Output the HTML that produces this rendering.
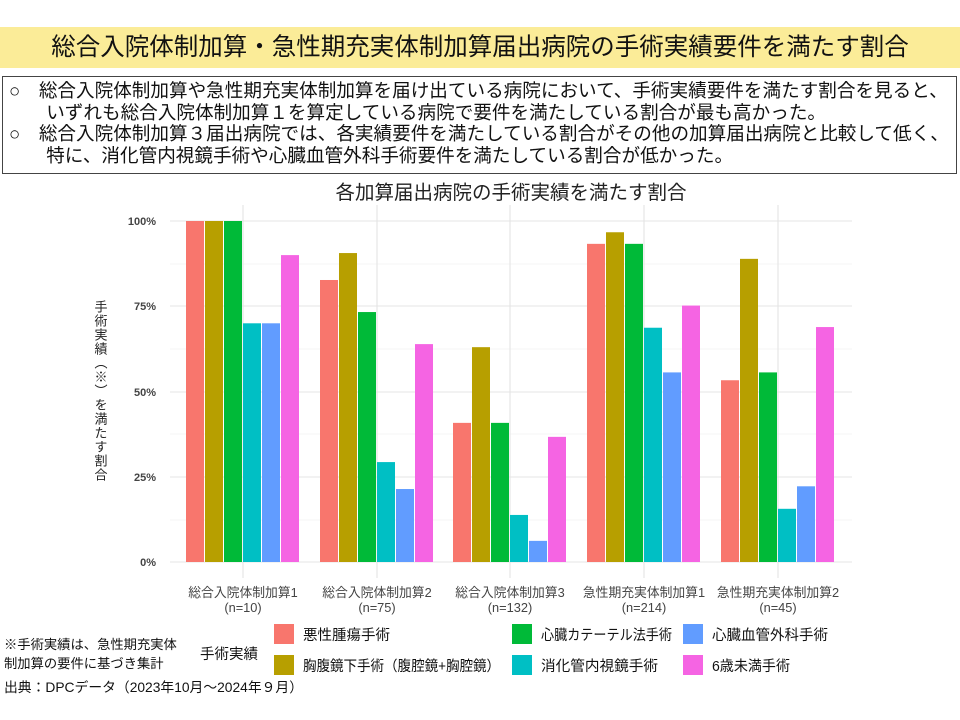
<!DOCTYPE html>
<html><head><meta charset="utf-8"><style>
body{margin:0;width:960px;height:720px;background:#fff;font-family:"Liberation Sans","Noto Sans CJK JP",sans-serif;position:relative;overflow:hidden}
.ban{position:absolute;left:0;top:27px;width:960px;height:41px;background:#FBEC98;font-size:24.5px;text-align:center;line-height:41px;color:#111;white-space:nowrap}
.box{position:absolute;left:2px;top:76px;width:955px;height:98px;border:1px solid #444;box-sizing:border-box;font-size:18.6px;line-height:21.5px;padding:3px 0 0 6px;color:#111;white-space:nowrap;overflow:hidden}
</style></head><body>
<div class="ban">総合入院体制加算・急性期充実体制加算届出病院の手術実績要件を満たす割合</div>
<div class="box">○　総合入院体制加算や急性期充実体制加算を届け出ている病院において、手術実績要件を満たす割合を見ると、<br>　　いずれも総合入院体制加算１を算定している病院で要件を満たしている割合が最も高かった。<br>○　総合入院体制加算３届出病院では、各実績要件を満たしている割合がその他の加算届出病院と比較して低く、<br>　　特に、消化管内視鏡手術や心臓血管外科手術要件を満たしている割合が低かった。</div>
<svg width="960" height="720" style="position:absolute;left:0;top:0" font-family="Liberation Sans, Noto Sans CJK JP, sans-serif">
<text x="511" y="199" font-size="19.5" text-anchor="middle" fill="#222">各加算届出病院の手術実績を満たす割合</text>
<g stroke="#ebebeb" stroke-width="0.6">
<line x1="170" x2="852" y1="264" y2="264"/><line x1="170" x2="852" y1="349" y2="349"/><line x1="170" x2="852" y1="434" y2="434"/><line x1="170" x2="852" y1="520" y2="520"/>
</g>
<g stroke="#e4e4e4" stroke-width="1.1">
<line x1="170" x2="852" y1="221" y2="221"/><line x1="170" x2="852" y1="306" y2="306"/><line x1="170" x2="852" y1="392" y2="392"/><line x1="170" x2="852" y1="477" y2="477"/><line x1="170" x2="852" y1="562" y2="562"/>
<line x1="243" x2="243" y1="205" y2="578"/><line x1="377" x2="377" y1="205" y2="578"/><line x1="510" x2="510" y1="205" y2="578"/><line x1="644" x2="644" y1="205" y2="578"/><line x1="778" x2="778" y1="205" y2="578"/>
</g>
<g font-size="11" fill="#444" text-anchor="end" font-weight="bold">
<text x="156" y="225">100%</text><text x="156" y="310">75%</text><text x="156" y="396">50%</text><text x="156" y="481">25%</text><text x="156" y="566">0%</text>
</g>
<text font-size="13" fill="#222" writing-mode="vertical-rl" x="100" y="300" letter-spacing="1">手術実績（※）を満たす割合</text>
<g id="bars"></g>
<g font-size="12.8" fill="#444" text-anchor="middle">
<text x="243" y="597">総合入院体制加算1</text><text x="243" y="612">(n=10)</text>
<text x="377" y="597">総合入院体制加算2</text><text x="377" y="612">(n=75)</text>
<text x="510" y="597">総合入院体制加算3</text><text x="510" y="612">(n=132)</text>
<text x="644" y="597">急性期充実体制加算1</text><text x="644" y="612">(n=214)</text>
<text x="778" y="597">急性期充実体制加算2</text><text x="778" y="612">(n=45)</text>
</g>
<g font-size="13.3" fill="#111">
<text x="4" y="649">※手術実績は、急性期充実体</text><text x="4" y="668">制加算の要件に基づき集計</text>
<text x="4" y="692" font-size="13.8">出典：DPCデータ（2023年10月～2024年９月）</text>
<text x="200" y="659" font-size="14.5">手術実績</text>
</g>
<g font-size="14.5" fill="#111">
<rect x="274" y="624" width="20" height="20" fill="#F8766D"/><text x="303" y="640" textLength="87" lengthAdjust="spacingAndGlyphs">悪性腫瘍手術</text>
<rect x="274" y="655" width="20" height="20" fill="#B79F00"/><text x="303" y="671" textLength="197" lengthAdjust="spacingAndGlyphs">胸腹鏡下手術（腹腔鏡+胸腔鏡）</text>
<rect x="512" y="624" width="20" height="20" fill="#00BA38"/><text x="541" y="640" textLength="131" lengthAdjust="spacingAndGlyphs">心臓カテーテル法手術</text>
<rect x="512" y="655" width="20" height="20" fill="#00BFC4"/><text x="541" y="671" textLength="117" lengthAdjust="spacingAndGlyphs">消化管内視鏡手術</text>
<rect x="683" y="624" width="20" height="20" fill="#619CFF"/><text x="712" y="640" textLength="116" lengthAdjust="spacingAndGlyphs">心臓血管外科手術</text>
<rect x="683" y="655" width="20" height="20" fill="#F564E3"/><text x="712" y="671" textLength="78" lengthAdjust="spacingAndGlyphs">6歳未満手術</text>
</g>
</svg>
<script>
var d=[[100,100,100,70,70,90],[82.7,90.6,73.3,29.3,21.4,63.9],[40.8,63,40.8,13.8,6.2,36.7],[93.3,96.7,93.3,68.7,55.6,75.2],[53.3,88.9,55.6,15.6,22.2,68.9]];
var c=["#F8766D","#B79F00","#00BA38","#00BFC4","#619CFF","#F564E3"],cx=[243,377,510,644,778],s="";
d.forEach(function(g,i){g.forEach(function(v,j){var h=v*3.41;s+='<rect x="'+(cx[i]-57+j*19)+'" y="'+(562-h)+'" width="18" height="'+h+'" fill="'+c[j]+'"/>';});});
document.getElementById("bars").innerHTML=s;
</script>
</body></html>
